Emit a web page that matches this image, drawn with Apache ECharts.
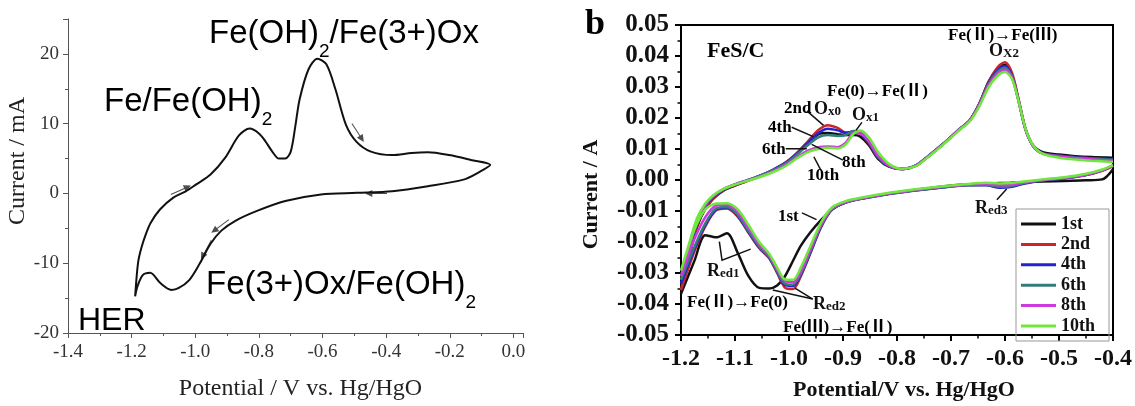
<!DOCTYPE html>
<html>
<head>
<meta charset="UTF-8">
<title>CV curves</title>
<style>
  html, body { margin: 0; padding: 0; background: #fff; }
  #chart { width: 1135px; height: 406px; }
</style>
</head>
<body>
<div id="chart"></div>
<script src="https://cdn.jsdelivr.net/npm/echarts@6/dist/echarts.min.js"></script>
<script>
// ---------- left panel: one CV loop, current in mA ----------
var aAnodicE = [-1.189,-1.180,-1.170,-1.155,-1.140,-1.111,-1.069,-1.030,-0.997,-0.952,-0.907,-0.862,-0.829,-0.800,-0.780,-0.758,-0.737,-0.717,-0.700,-0.686,-0.672,-0.644,-0.616,-0.588,-0.560,-0.526,-0.493,-0.448,-0.381,-0.320,-0.269,-0.202,-0.134,-0.073];
var aAnodicI = [-14.76,-10.0,-7.9,-5.8,-4.2,-2.3,-0.6,0.3,1.3,2.7,5.05,8.35,9.29,8.6,7.5,6.0,5.0,5.0,6.0,9.5,13.5,17.8,19.3,18.5,15.0,9.8,7.4,6.0,5.5,5.8,5.9,5.5,4.8,4.1];
var aCathodicE = [-0.073,-0.110,-0.157,-0.269,-0.381,-0.493,-0.605,-0.717,-0.806,-0.874,-0.918,-0.952,-0.986,-1.019,-1.053,-1.075,-1.109,-1.142,-1.165,-1.182,-1.189];
var aCathodicI = [4.1,3.0,1.98,1.04,0.33,0.09,-0.14,-1.08,-2.5,-3.92,-5.33,-7.22,-10.05,-12.41,-13.58,-13.82,-12.88,-11.37,-11.7,-13.35,-14.76];
// scan direction arrows: [E, I, angle in degrees]
var aArrows = [[-0.489, 8.7, -57], [-0.432, 0.0, 180], [-1.045, 0.5, 24], [-0.922, -4.7, 217], [-0.966, -8.1, 242]];

// ---------- right panel: FeS/C, several cycles, current in A ----------
var cycleNames = ['1st', '2nd', '4th', '6th', '8th', '10th'];
var cycleColors = ['#111111', '#c8262b', '#2323cf', '#347c79', '#cf3adf', '#6ee83a'];

var bCathodicE = [-0.4,-0.42,-0.45,-0.49,-0.53,-0.565,-0.59,-0.61,-0.635,-0.67,-0.72,-0.77,-0.82,-0.86,-0.895,-0.92,-0.94,-0.96,-0.978,-0.993,-1.008,-1.022,-1.037,-1.055,-1.075,-1.095,-1.115,-1.135,-1.155,-1.175,-1.2];
var bAnodicE = [-1.2,-1.185,-1.17,-1.155,-1.14,-1.12,-1.10,-1.08,-1.055,-1.03,-1.005,-0.985,-0.965,-0.945,-0.928,-0.91,-0.895,-0.88,-0.868,-0.852,-0.835,-0.815,-0.79,-0.765,-0.745,-0.715,-0.685,-0.665,-0.648,-0.63,-0.613,-0.6,-0.587,-0.574,-0.562,-0.548,-0.53,-0.5,-0.47,-0.44,-0.4];

var cath1st = [0.0035,0.0002,-0.0001,-0.0003,-0.0005,-0.0007,-0.0009,-0.0010,-0.0011,-0.0014,-0.0022,-0.0033,-0.0045,-0.0057,-0.0072,-0.0095,-0.0128,-0.0168,-0.0212,-0.0262,-0.0312,-0.0340,-0.0350,-0.0348,-0.0310,-0.0235,-0.0172,-0.0185,-0.0178,-0.0260,-0.0367];
var anod1st = [-0.0367,-0.0250,-0.0150,-0.0093,-0.0060,-0.0033,-0.0018,-0.0005,0.0011,0.0031,0.0057,0.0086,0.0120,0.0148,0.0152,0.0148,0.0145,0.0145,0.0140,0.0112,0.0068,0.0043,0.0035,0.0046,0.0072,0.0115,0.0162,0.0193,0.0244,0.0318,0.0360,0.0372,0.0338,0.0250,0.0165,0.0112,0.0090,0.0082,0.0077,0.0074,0.0072];

var cath2nd = [0.0045,0.0030,0.0016,0.0006,-0.0001,-0.0010,-0.0020,-0.0021,-0.0015,-0.0016,-0.0024,-0.0034,-0.0046,-0.0058,-0.0072,-0.0095,-0.0150,-0.0235,-0.0310,-0.0352,-0.0346,-0.0300,-0.0252,-0.0220,-0.0170,-0.0118,-0.0092,-0.0098,-0.0150,-0.0230,-0.0355];
var anod2nd = [-0.0355,-0.0240,-0.0145,-0.0090,-0.0058,-0.0032,-0.0017,-0.0004,0.0012,0.0032,0.0058,0.0088,0.0125,0.0162,0.0177,0.0168,0.0153,0.0156,0.0150,0.0118,0.0072,0.0045,0.0036,0.0047,0.0073,0.0116,0.0163,0.0194,0.0245,0.0318,0.0365,0.0380,0.0345,0.0255,0.0165,0.0110,0.0086,0.0078,0.0073,0.0070,0.0066];

var cath4th = [0.0047,0.0031,0.0016,0.0005,-0.0002,-0.0012,-0.0023,-0.0025,-0.0017,-0.0017,-0.0025,-0.0035,-0.0047,-0.0059,-0.0073,-0.0095,-0.0148,-0.0232,-0.0305,-0.0342,-0.0338,-0.0296,-0.0250,-0.0218,-0.0168,-0.0115,-0.0089,-0.0095,-0.0145,-0.0222,-0.0335];
var anod4th = [-0.0335,-0.0230,-0.0138,-0.0086,-0.0055,-0.0030,-0.0015,-0.0003,0.0013,0.0033,0.0057,0.0085,0.0120,0.0152,0.0165,0.0160,0.0152,0.0157,0.0152,0.0120,0.0073,0.0045,0.0036,0.0047,0.0073,0.0116,0.0163,0.0193,0.0243,0.0314,0.0355,0.0368,0.0336,0.0250,0.0163,0.0110,0.0086,0.0078,0.0073,0.0070,0.0066];

var cath6th = [0.0046,0.0031,0.0017,0.0006,-0.0001,-0.0010,-0.0020,-0.0022,-0.0016,-0.0016,-0.0024,-0.0034,-0.0046,-0.0058,-0.0072,-0.0094,-0.0146,-0.0228,-0.0302,-0.0338,-0.0334,-0.0294,-0.0248,-0.0215,-0.0165,-0.0112,-0.0087,-0.0092,-0.0140,-0.0215,-0.0322];
var anod6th = [-0.0322,-0.0222,-0.0133,-0.0083,-0.0053,-0.0029,-0.0014,-0.0002,0.0013,0.0032,0.0055,0.0082,0.0113,0.0138,0.0145,0.0142,0.0145,0.0158,0.0155,0.0123,0.0075,0.0046,0.0036,0.0047,0.0073,0.0116,0.0163,0.0193,0.0242,0.0311,0.0350,0.0362,0.0333,0.0248,0.0162,0.0110,0.0085,0.0077,0.0072,0.0069,0.0065];

var cath8th = [0.0046,0.0031,0.0017,0.0007,0.0000,-0.0008,-0.0016,-0.0017,-0.0013,-0.0015,-0.0023,-0.0033,-0.0045,-0.0057,-0.0071,-0.0092,-0.0142,-0.0222,-0.0295,-0.0330,-0.0326,-0.0288,-0.0242,-0.0208,-0.0155,-0.0103,-0.0080,-0.0083,-0.0120,-0.0190,-0.0310];
var anod8th = [-0.0310,-0.0215,-0.0128,-0.0080,-0.0051,-0.0028,-0.0014,-0.0003,0.0011,0.0028,0.0050,0.0074,0.0095,0.0106,0.0108,0.0106,0.0120,0.0152,0.0150,0.0125,0.0078,0.0046,0.0035,0.0046,0.0072,0.0115,0.0162,0.0192,0.0240,0.0307,0.0345,0.0356,0.0330,0.0248,0.0163,0.0110,0.0085,0.0076,0.0071,0.0067,0.0062];

var cath10th = [0.0048,0.0034,0.0020,0.0009,0.0002,-0.0005,-0.0010,-0.0011,-0.0009,-0.0013,-0.0021,-0.0031,-0.0043,-0.0055,-0.0068,-0.0088,-0.0135,-0.0212,-0.0282,-0.0322,-0.0320,-0.0282,-0.0237,-0.0200,-0.0145,-0.0095,-0.0075,-0.0076,-0.0095,-0.0160,-0.0292];
var anod10th = [-0.0292,-0.0205,-0.0122,-0.0076,-0.0049,-0.0028,-0.0015,-0.0004,0.0009,0.0025,0.0046,0.0070,0.0090,0.0100,0.0104,0.0102,0.0115,0.0150,0.0160,0.0138,0.0090,0.0052,0.0036,0.0045,0.0070,0.0113,0.0160,0.0190,0.0236,0.0300,0.0337,0.0348,0.0326,0.0248,0.0165,0.0112,0.0084,0.0072,0.0066,0.0062,0.0058];

var cycleCathodic = [cath1st, cath2nd, cath4th, cath6th, cath8th, cath10th];
var cycleAnodic = [anod1st, anod2nd, anod4th, anod6th, anod8th, anod10th];

// leader lines of the labels, in data units of the right panel
var bLeaders = [
  [[-0.967, 0.0223], [-0.936, 0.0176]],
  [[-0.995, 0.0170], [-0.955, 0.0140]],
  [[-1.006, 0.0101], [-0.967, 0.0101]],
  [[-0.958, 0.0115], [-0.900, 0.0064]],
  [[-0.954, 0.0075], [-0.941, 0.0032]],
  [[-0.865, 0.0186], [-0.876, 0.0160]],
  [[-0.976, -0.0106], [-0.949, -0.0128]],
  [[-1.129, -0.0199], [-1.124, -0.0259], [-1.071, -0.0223]],
  [[-0.956, -0.0384], [-1.030, -0.0355]],
  [[-0.956, -0.0384], [-0.989, -0.0349]],
  [[-0.615, -0.0064], [-0.597, -0.0029]]
];

function zip(e, i) {
  var out = [];
  for (var k = 0; k < e.length; k++) out.push([e[k], i[k]]);
  return out;
}

var SERIF = '"Liberation Serif", "Times New Roman", "Noto Sans CJK SC", serif';
var SANS = '"Liberation Sans", Arial, sans-serif';

// text with optional rich sub-parts
function label(x, y, text, size, family, weight, rich) {
  return {
    type: 'text', x: x, y: y, silent: true, z: 50,
    style: {
      text: text,
      fontSize: size, fontFamily: family, fontWeight: weight || 'normal',
      fill: '#000',
      lineHeight: size,
      textAlign: 'left', textVerticalAlign: 'middle',
      align: 'left', verticalAlign: 'middle',
      rich: rich || {}
    }
  };
}
var subSans = { s: { fontSize: 19, fontFamily: SANS, lineHeight: 19, padding: [25, 0, 0, 0], verticalAlign: 'top', fill: '#000' } };
function subSerif() {
  return {
    m: { fontSize: 18, fontFamily: SERIF, fontWeight: 'bold', lineHeight: 18, fill: '#111' },
    s: { fontSize: 13, fontFamily: SERIF, fontWeight: 'bold', lineHeight: 13, verticalAlign: 'bottom', fill: '#111' }
  };
}

var graphics = [
  label(209, 34, 'Fe(OH){s|2}/Fe(3+)Ox', 33, SANS, 'normal', subSans),
  label(104, 102, 'Fe/Fe(OH){s|2}', 33, SANS, 'normal', subSans),
  label(206, 285, 'Fe(3+)Ox/Fe(OH){s|2}', 33, SANS, 'normal', subSans),
  label(78, 321, 'HER', 32, SANS),

  label(585, 25, 'b', 36, SERIF, 'bold'),
  label(707, 51, 'FeS/C', 22, SERIF, 'bold'),
  label(948, 36, 'Fe(Ⅱ)→Fe(Ⅲ)', 17, SERIF, 'bold'),
  label(989, 51, '{m|O}{s|X2}', 18, SERIF, 'bold', subSerif()),
  label(827, 92, 'Fe(0)→Fe(Ⅱ)', 17, SERIF, 'bold'),
  label(784, 109, '2nd', 17, SERIF, 'bold'),
  label(814, 109, '{m|O}{s|x0}', 18, SERIF, 'bold', subSerif()),
  label(852, 115, '{m|O}{s|x1}', 18, SERIF, 'bold', subSerif()),
  label(768, 128, '4th', 17, SERIF, 'bold'),
  label(762, 150, '6th', 17, SERIF, 'bold'),
  label(842, 163, '8th', 17, SERIF, 'bold'),
  label(807, 176, '10th', 17, SERIF, 'bold'),
  label(778, 217, '1st', 17, SERIF, 'bold'),
  label(707, 271, '{m|R}{s|ed1}', 18, SERIF, 'bold', subSerif()),
  label(687, 303, 'Fe(Ⅱ)→Fe(0)', 17, SERIF, 'bold'),
  label(813, 304, '{m|R}{s|ed2}', 18, SERIF, 'bold', subSerif()),
  label(783, 328, 'Fe(Ⅲ)→Fe(Ⅱ)', 17, SERIF, 'bold'),
  label(975, 208, '{m|R}{s|ed3}', 18, SERIF, 'bold', subSerif())
];

var series = [];

series.push({
  name: 'CV', type: 'line', xAxisIndex: 0, yAxisIndex: 0,
  data: zip(aAnodicE, aAnodicI).concat(zip(aCathodicE, aCathodicI).slice(1)),
  smooth: 0.3, showSymbol: false, symbol: 'none',
  lineStyle: { color: '#111', width: 2 }
});
series.push({
  name: 'arrows', type: 'scatter', xAxisIndex: 0, yAxisIndex: 0,
  symbol: 'path://M0,3.4 L16,3.4 L16,0 L24,4 L16,8 L16,4.6 L0,4.6 Z',
  symbolSize: [22, 7],
  itemStyle: { color: '#222' },
  data: aArrows.map(function (a) { return { value: [a[0], a[1]], symbolRotate: a[2] }; })
});

for (var c = 0; c < cycleNames.length; c++) {
  series.push({
    name: cycleNames[c], type: 'line', xAxisIndex: 1, yAxisIndex: 1,
    data: zip(bCathodicE, cycleCathodic[c]).concat(zip(bAnodicE, cycleAnodic[c]).slice(1)),
    smooth: 0.3, showSymbol: false, symbol: 'none',
    color: cycleColors[c],
    lineStyle: { color: cycleColors[c], width: 2.5 },
    z: 2 + c
  });
}

series.push({
  name: 'leaders', type: 'lines', coordinateSystem: 'cartesian2d', xAxisIndex: 1, yAxisIndex: 1,
  polyline: true, silent: true, z: 20,
  lineStyle: { color: '#111', width: 1.5, opacity: 1 },
  data: bLeaders.map(function (p) { return { coords: p }; })
});

var chart = echarts.init(document.getElementById('chart'), null, { renderer: 'canvas' });
chart.setOption({
  animation: false,
  backgroundColor: '#fff',
  grid: [
    { left: 68, right: 612, top: 19, bottom: 69 },
    { left: 681, right: 22, top: 25, bottom: 68, show: true, borderColor: '#000', borderWidth: 2, backgroundColor: 'transparent' }
  ],
  legend: {
    data: cycleNames,
    orient: 'vertical',
    left: 1016, top: 209,
    icon: 'rect', itemWidth: 35, itemHeight: 3, itemGap: 2.4,
    padding: [6, 14, 6, 5],
    borderColor: '#999', borderWidth: 1,
    textStyle: { fontFamily: SERIF, fontWeight: 'bold', fontSize: 18, color: '#111', lineHeight: 17 }
  },
  xAxis: [
    {
      gridIndex: 0, type: 'value', min: -1.4, max: 0.03, interval: 0.2,
      name: 'Potential / V vs. Hg/HgO', nameLocation: 'middle', nameGap: 44,
      nameTextStyle: { fontFamily: SERIF, fontSize: 24, color: '#222', padding: [0, 0, 0, 10] },
      axisLine: { onZero: false, lineStyle: { color: '#555', width: 1 } },
      axisTick: { inside: false, length: 5, lineStyle: { color: '#555' } },
      minorTick: { show: true, splitNumber: 2, length: 3, lineStyle: { color: '#555' } },
      splitLine: { show: false },
      axisLabel: {
        showMaxLabel: false, margin: 10, fontFamily: SERIF, fontSize: 19, color: '#333',
        formatter: function (v) { return v.toFixed(1); }
      }
    },
    {
      gridIndex: 1, type: 'value', min: -1.2, max: -0.4, interval: 0.1,
      name: 'Potential/V vs. Hg/HgO', nameLocation: 'middle', nameGap: 44,
      nameTextStyle: { fontFamily: SERIF, fontWeight: 'bold', fontSize: 22, color: '#111', padding: [0, 0, 0, 14] },
      axisLine: { onZero: false, lineStyle: { color: '#000', width: 2 } },
      axisTick: { inside: false, length: 6, lineStyle: { color: '#000', width: 2 } },
      minorTick: { show: true, splitNumber: 2, length: 3.5, lineStyle: { color: '#000', width: 1.5 } },
      splitLine: { show: false },
      axisLabel: {
        margin: 12, fontFamily: SERIF, fontWeight: 'bold', fontSize: 24, color: '#111',
        formatter: function (v) { return v.toFixed(1); }
      }
    }
  ],
  yAxis: [
    {
      gridIndex: 0, type: 'value', min: -20, max: 25, interval: 10,
      name: 'Current / mA', nameLocation: 'middle', nameGap: 36, nameRotate: 90,
      nameTextStyle: { fontFamily: SERIF, fontSize: 24, color: '#222', padding: [0, 0, 0, 30] },
      axisLine: { show: true, onZero: false, lineStyle: { color: '#555', width: 1 } },
      axisTick: { show: true, inside: false, length: 5, lineStyle: { color: '#555' } },
      minorTick: { show: true, splitNumber: 2, length: 3, lineStyle: { color: '#555' } },
      splitLine: { show: false },
      axisLabel: { showMaxLabel: false, margin: 9, fontFamily: SERIF, fontSize: 19, color: '#333' }
    },
    {
      gridIndex: 1, type: 'value', min: -0.05, max: 0.05, interval: 0.01,
      name: 'Current / A', nameLocation: 'middle', nameGap: 79, nameRotate: 90,
      nameTextStyle: { fontFamily: SERIF, fontWeight: 'bold', fontSize: 22, color: '#111', padding: [0, 29, 0, 0] },
      axisLine: { show: true, onZero: false, lineStyle: { color: '#000', width: 2 } },
      axisTick: { show: true, inside: false, length: 6, lineStyle: { color: '#000', width: 2 } },
      minorTick: { show: true, splitNumber: 2, length: 3.5, lineStyle: { color: '#000', width: 1.5 } },
      splitLine: { show: false },
      axisLabel: {
        margin: 12, fontFamily: SERIF, fontWeight: 'bold', fontSize: 25, color: '#111',
        formatter: function (v) { return v.toFixed(2); }
      }
    }
  ],
  series: series,
  graphic: graphics
});
</script>
</body>
</html>
